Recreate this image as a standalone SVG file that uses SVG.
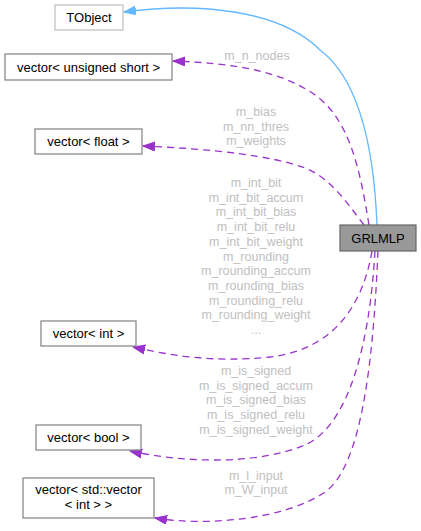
<svg xmlns="http://www.w3.org/2000/svg" width="421" height="531" viewBox="0 0 421 531">
<style>
.box{fill:#ffffff;stroke:#808080;stroke-width:1.2}
.t{font-family:"Liberation Sans",Arial,sans-serif;font-size:13px;fill:#000000;text-anchor:middle}
.lbl{font-family:"Liberation Sans",Arial,sans-serif;font-size:12.5px;fill:#c0c0c0;text-anchor:middle}
.dep{fill:none;stroke:#9a32cd;stroke-width:1.3;stroke-dasharray:7,5}
.inh{fill:none;stroke:#63b8ff;stroke-width:1.3}
</style>
<defs>
<marker id="ap" markerUnits="userSpaceOnUse" markerWidth="14" markerHeight="10" refX="12" refY="4.5" orient="auto">
<path d="M0,0 L12,4.5 L0,9 z" fill="#9a32cd" stroke="#9a32cd" stroke-width="1"/>
</marker>
<marker id="ab" markerUnits="userSpaceOnUse" markerWidth="14" markerHeight="10" refX="12" refY="4.5" orient="auto">
<path d="M0,0 L12,4.5 L0,9 z" fill="#63b8ff" stroke="#63b8ff" stroke-width="1"/>
</marker>
</defs>
<rect width="421" height="531" fill="#ffffff"/>
<g id="edges">
<path class="inh" d="M377,225 C374,150 360,80 320,50 C280,10 200,2 124,12" marker-end="url(#ab)"/>
<path class="dep" d="M369,225 C360,170 350,120 315,95 C280,70 230,63 173,61" marker-end="url(#ap)"/>
<path class="dep" d="M364,225 C345,200 330,178 305,168 C270,155 210,149 143,146" marker-end="url(#ap)"/>
<path class="dep" d="M372,251 C362,310 330,350 270,357 C210,363 170,355 133,347" marker-end="url(#ap)"/>
<path class="dep" d="M375,251 C370,340 350,425 305,445 C255,466 180,462 130,451" marker-end="url(#ap)"/>
<path class="dep" d="M378,251 C374,340 365,470 322,494 C285,518 210,527 155,518" marker-end="url(#ap)"/>
<text class="lbl" x="257" y="59.5">m_n_nodes</text>
<text class="lbl" x="256" y="116">m_bias</text>
<text class="lbl" x="256" y="130.5">m_nn_thres</text>
<text class="lbl" x="256" y="145">m_weights</text>
<text class="lbl" x="256" y="187">m_int_bit</text>
<text class="lbl" x="256" y="201.7">m_int_bit_accum</text>
<text class="lbl" x="256" y="216.4">m_int_bit_bias</text>
<text class="lbl" x="256" y="231">m_int_bit_relu</text>
<text class="lbl" x="256" y="245.8">m_int_bit_weight</text>
<text class="lbl" x="256" y="260.5">m_rounding</text>
<text class="lbl" x="256" y="275">m_rounding_accum</text>
<text class="lbl" x="256" y="290">m_rounding_bias</text>
<text class="lbl" x="256" y="304.7">m_rounding_relu</text>
<text class="lbl" x="256" y="319.4">m_rounding_weight</text>
<text class="lbl" x="256" y="334">...</text>
<text class="lbl" x="256" y="375">m_is_signed</text>
<text class="lbl" x="256" y="389.7">m_is_signed_accum</text>
<text class="lbl" x="256" y="404.4">m_is_signed_bias</text>
<text class="lbl" x="256" y="419">m_is_signed_relu</text>
<text class="lbl" x="256" y="433.8">m_is_signed_weight</text>
<text class="lbl" x="256" y="479.5">m_l_input</text>
<text class="lbl" x="256" y="494">m_W_input</text>
</g>
<g id="TObject"><rect x="55" y="5" width="68" height="25" fill="#ffffff" stroke="#bfbfbf" stroke-width="1.2"/><text class="t" x="89" y="22">TObject</text></g>
<g id="vec_ushort"><rect class="box" x="5" y="54" width="167" height="26"/><text class="t" x="88.5" y="71.5">vector&lt; unsigned short &gt;</text></g>
<g id="vec_float"><rect class="box" x="35" y="129" width="107" height="25"/><text class="t" x="88.5" y="146">vector&lt; float &gt;</text></g>
<g id="GRLMLP"><rect x="340" y="225" width="76" height="26" fill="#999999" stroke="#666666" stroke-width="1.2"/><text class="t" x="378" y="242.5">GRLMLP</text></g>
<g id="vec_int"><rect class="box" x="41" y="321" width="95" height="25"/><text class="t" x="88.5" y="338">vector&lt; int &gt;</text></g>
<g id="vec_bool"><rect class="box" x="36" y="425" width="105" height="25"/><text class="t" x="88.5" y="442">vector&lt; bool &gt;</text></g>
<g id="vec_vec_int"><rect class="box" x="23" y="478" width="131" height="40"/><text class="t" x="88.5" y="494">vector&lt; std::vector</text><text class="t" x="88.5" y="509">&lt; int &gt; &gt;</text></g>
</svg>
